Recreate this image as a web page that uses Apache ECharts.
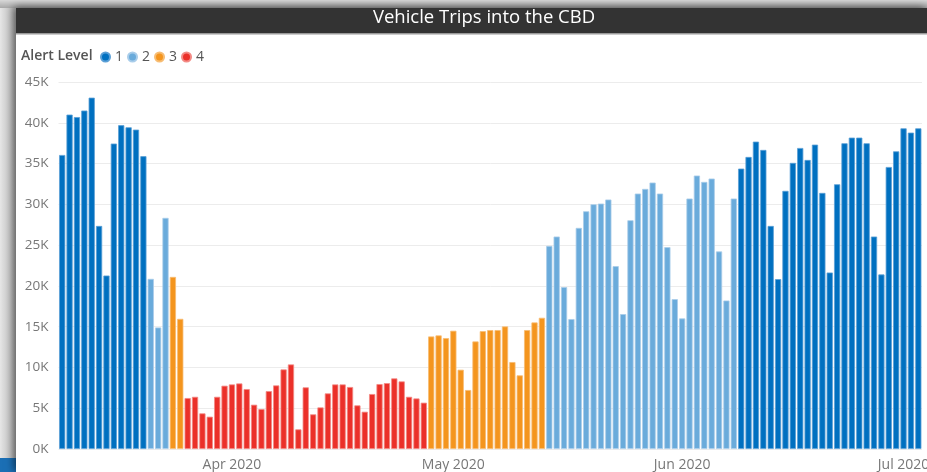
<!DOCTYPE html>
<html>
<head>
<meta charset="utf-8">
<script src="https://cdn.jsdelivr.net/npm/echarts@6/dist/echarts.min.js"></script>
<style>
  html, body { margin: 0; padding: 0; width: 100%; height: 100%; overflow: hidden; }
  body { position: relative; background: linear-gradient(to right, #e6e6e6 0px, #b8b8b8 14px); }
  #topshade { position: absolute; left: 0; top: 0; right: 0; height: 8px;
    background: linear-gradient(to bottom, #d8d8d8, #a8a8a8); }
  #panel { position: absolute; left: 16px; top: 8px; right: 0; bottom: 0; background: #fff;
    box-shadow: -2px -1px 8px rgba(0,0,0,0.55); }
  #taskbar { position: absolute; left: 0; bottom: 0; width: 16px; height: 14px; background: #1b6fb5; }
  #chart { position: absolute; left: 0; top: 0; right: 0; bottom: 0; }
</style>
</head>
<body>
<div id="topshade"></div>
<div id="taskbar"></div>
<div id="panel"></div>
<div id="chart"></div>
<script>
// ---- data ----
const startDate = '2020-03-09';
const dayCount = 117;
// runs of alert level: [level, number of days]
const levelRuns = [[1, 12], [2, 3], [3, 2], [4, 33], [3, 16], [2, 26], [1, 25]];
const trips = [
  36050, 41000, 40700, 41500, 43080, 27350, 21270, 37450, 39700, 39450,
  39160, 35900, 20860, 14900, 28340, 21100, 15960, 6250, 6400, 4370,
  3960, 6400, 7760, 7920, 8040, 7350, 5430, 4900, 7100, 7800,
  9760, 10370, 2410, 7560, 4250, 5100, 6820, 7920, 7920, 7600,
  5350, 4570, 6740, 7960, 8080, 8660, 8290, 6400, 6200, 5680,
  13800, 13930, 13600, 14500, 9720, 7230, 13190, 14450, 14580, 14580,
  15030, 10660, 9030, 14580, 15520, 16090, 24900, 26050, 19850, 15930,
  27110, 29150, 30010, 30090, 30590, 22420, 16540, 28050, 31320, 31890,
  32670, 31320, 24750, 18380, 16010, 30710, 33530, 32750, 33160, 24220,
  18210, 30710, 34380, 35810, 37690, 36670, 27350, 20830, 31650, 35080,
  36910, 35440, 37320, 31400, 21640, 32460, 37490, 38180, 38180, 37490,
  26050, 21400, 34580, 36500, 39320, 38790, 39320
];
const levelNames = ['1', '2', '3', '4'];
const levelColors = ['#0070c0', '#6aabdb', '#f4951e', '#eb3029'];
const levelBorders = ['#5a9fd6', '#a9cdea', '#f7bd74', '#f38a85'];
const monthNames = ['Jan','Feb','Mar','Apr','May','Jun','Jul','Aug','Sep','Oct','Nov','Dec'];

// ---- build ----
const dates = [];
{
  const d0 = new Date(startDate + 'T00:00:00Z');
  for (let i = 0; i < dayCount; i++) {
    const d = new Date(d0.getTime() + i * 86400000);
    dates.push(d.toISOString().slice(0, 10));
  }
}
const levels = [];
levelRuns.forEach(([lv, n]) => { for (let i = 0; i < n; i++) levels.push(lv); });

const series = levelNames.map((name, k) => ({
  name: name,
  type: 'bar',
  stack: 'all',
  barCategoryGap: '16%',
  itemStyle: { color: levelColors[k], borderColor: levelBorders[k], borderWidth: 0.8 },
  emphasis: { disabled: true },
  data: trips.map((v, i) => (levels[i] === k + 1 ? v : null))
}));

const el = document.getElementById('chart');
const chart = echarts.init(el, null, { renderer: 'canvas', width: 927, height: 472 });
const FONT = '"Open Sans", "Noto Sans", sans-serif';
chart.setOption({
  animation: false,
  backgroundColor: 'transparent',
  graphic: [
    { type: 'rect', left: 16, top: 8, shape: { width: 911, height: 25 }, style: { fill: '#333333' } },
    { type: 'rect', left: 16, top: 33, shape: { width: 911, height: 1.5 }, style: { fill: '#9a9a9a' } },
    { type: 'text', left: 21, top: 49,
      style: { text: 'Alert Level', fill: '#555555', font: '600 14px ' + FONT } }
  ],
  title: {
    text: 'Vehicle Trips into the CBD',
    left: 484, top: 8.5, textAlign: 'center', padding: 0,
    textStyle: { color: '#ffffff', fontSize: 18.5, fontWeight: 'normal', fontFamily: FONT }
  },
  legend: {
    left: 100, top: 50, padding: 0,
    icon: 'circle', itemWidth: 9, itemHeight: 9, itemGap: 4,
    textStyle: { color: '#555555', fontSize: 14, fontFamily: FONT },
    data: levelNames
  },
  grid: { left: 58.5, right: 5, top: 82, bottom: 23, containLabel: false, outerBoundsMode: 'none' },
  xAxis: {
    type: 'category',
    data: dates,
    boundaryGap: true,
    axisLine: { show: false },
    axisTick: { show: false },
    axisLabel: {
      interval: (idx, val) => val.slice(8, 10) === '01',
      formatter: (val) => monthNames[parseInt(val.slice(5, 7), 10) - 1] + ' ' + val.slice(0, 4),
      color: '#777777', fontSize: 14, fontFamily: FONT, margin: 9,
      hideOverlap: false
    }
  },
  yAxis: {
    type: 'value',
    min: 0, max: 45000, interval: 5000,
    axisLine: { show: false },
    axisTick: { show: false },
    splitLine: { lineStyle: { color: '#ececec', width: 1 } },
    axisLabel: {
      formatter: (v) => (v / 1000) + 'K',
      color: '#777777', fontSize: 13.5, fontFamily: FONT, margin: 10
    }
  },
  series: series
});
</script>
</body>
</html>
